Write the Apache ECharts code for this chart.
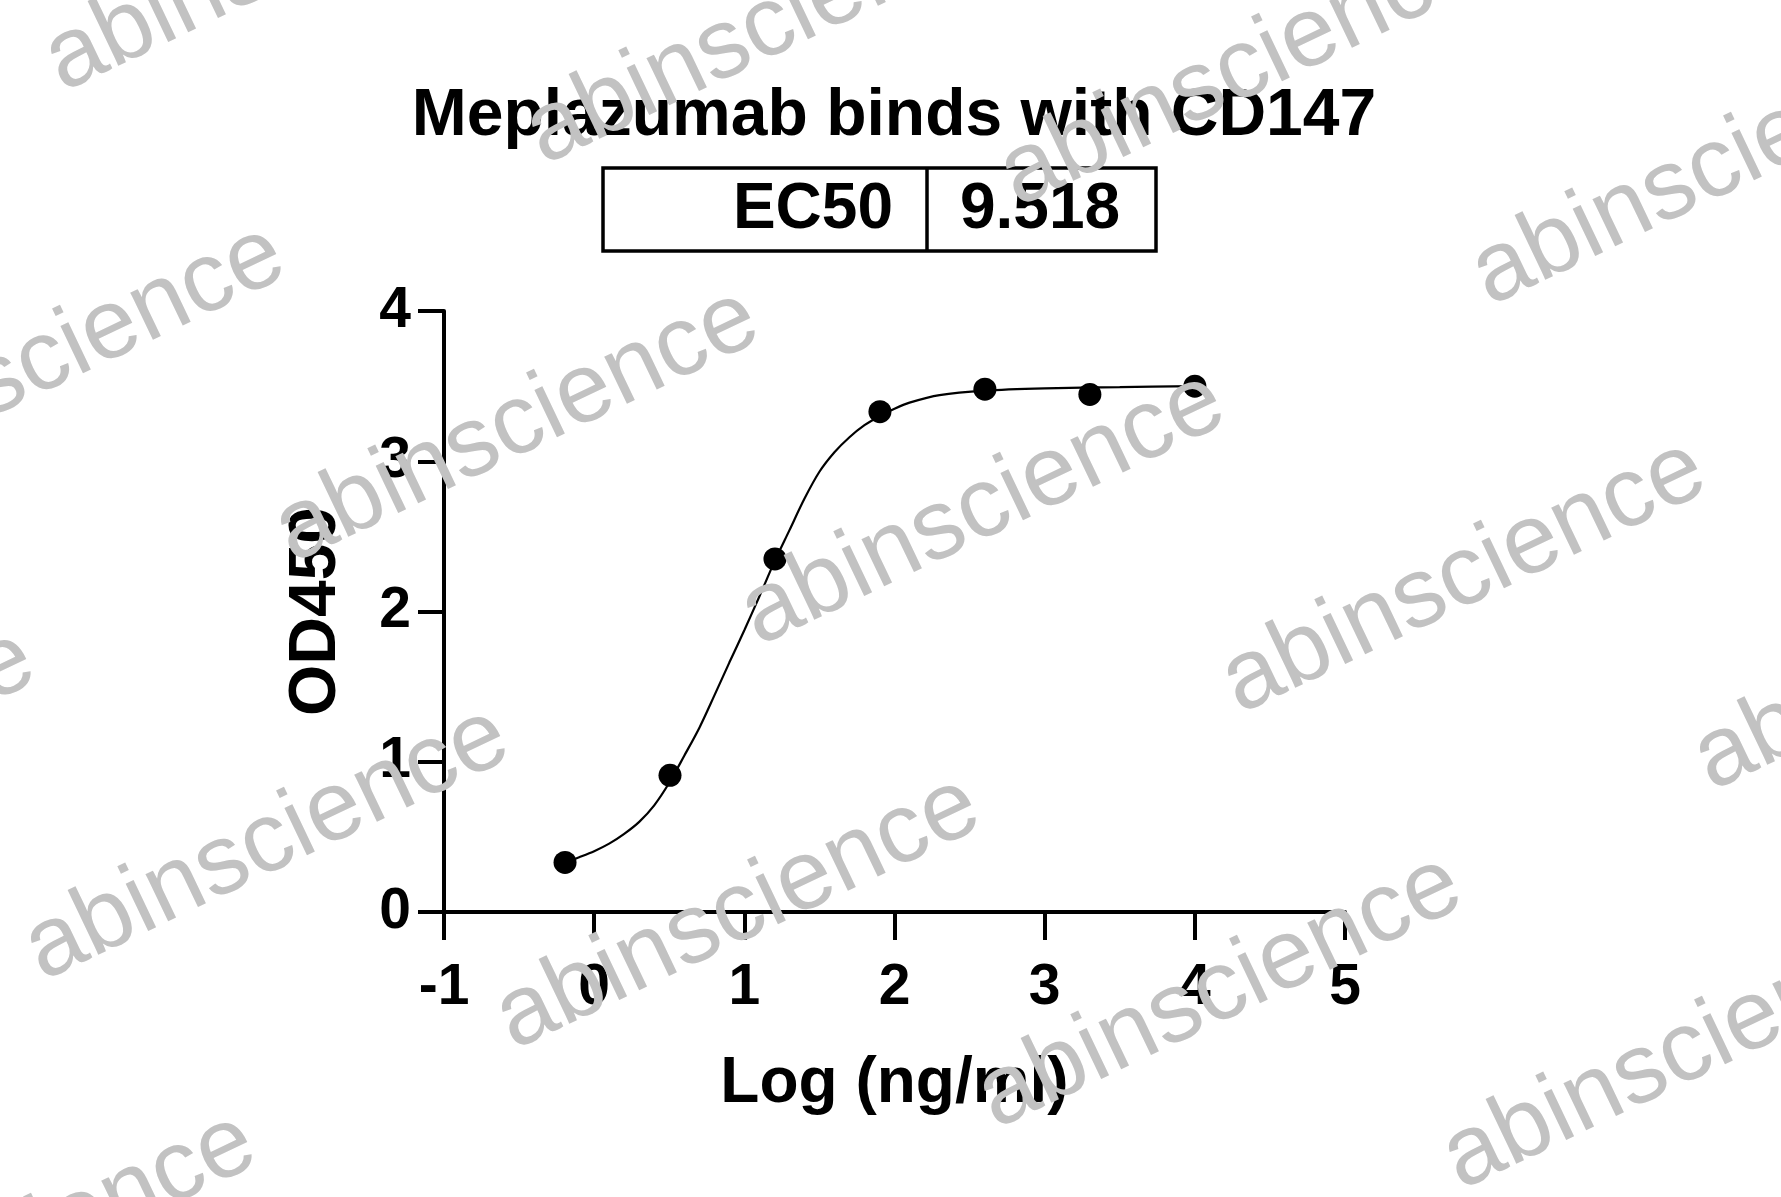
<!DOCTYPE html>
<html>
<head>
<meta charset="utf-8">
<script src="https://cdn.jsdelivr.net/npm/echarts@6/dist/echarts.min.js"></script>
<style>
html,body{margin:0;padding:0;background:#fff;}
#chart{width:1781px;height:1197px;}
</style>
</head>
<body>
<div id="chart"></div>
<script>
// ---- data ----
const chartTitle = 'Meplazumab binds with CD147';
const ec50Label = 'EC50';
const ec50Value = '9.518';
const xAxisName = 'Log (ng/ml)';
const yAxisName = 'OD450';
// measured points: log10 concentration (ng/ml) vs OD450
const pointLogConc = [-0.194, 0.505, 1.204, 1.903, 2.602, 3.301, 4.0];
const pointOD = [0.33, 0.91, 2.35, 3.33, 3.48, 3.445, 3.50];
// fitted curve
const curveLogConc = [-0.194, -0.1, 0.0, 0.1, 0.2, 0.3, 0.4, 0.5, 0.6, 0.7, 0.8, 0.9, 1.0, 1.1, 1.2, 1.3, 1.4, 1.5, 1.6, 1.7, 1.8, 1.9, 2.0, 2.1, 2.3, 2.6, 3.0, 3.5, 4.0];
const curveOD = [0.33, 0.365, 0.405, 0.455, 0.52, 0.60, 0.71, 0.86, 1.04, 1.225, 1.44, 1.66, 1.875, 2.10, 2.33, 2.54, 2.75, 2.93, 3.06, 3.16, 3.24, 3.30, 3.35, 3.39, 3.44, 3.47, 3.485, 3.493, 3.50];
const xTicks = [-1, 0, 1, 2, 3, 4, 5];
const yTicks = [0, 1, 2, 3, 4];
const watermarkText = 'abinscience';

const FONT = '"Liberation Sans", Arial, Helvetica, sans-serif';
const chart = echarts.init(document.getElementById('chart'));

const pointData = pointLogConc.map((x, i) => [x, pointOD[i]]);
const curveData = curveLogConc.map((x, i) => [x, curveOD[i]]);

// watermark centres (layout only)
const wmCentres = [
  [287, -45], [768, 28], [1242, 70], [1714, 169],
  [43, 362], [517, 426], [983, 509], [1464, 577], [1936, 654],
  [-207, 767], [267, 844], [738, 913], [1220, 992], [1685, 1053],
  [14, 1250]
];
const wmRot = 25.5 * Math.PI / 180;
const watermarks = wmCentres.map(c => ({
  type: 'text', x: c[0], y: c[1], rotation: wmRot, z: 100, silent: true,
  style: { text: watermarkText, fill: '#c2c2c2', font: 'normal 99px ' + FONT,
           textAlign: 'center', textVerticalAlign: 'middle' }
}));

const xMin = xTicks[0], xMax = xTicks[xTicks.length - 1];
const yMin = yTicks[0], yMax = yTicks[yTicks.length - 1];

chart.setOption({
  backgroundColor: '#ffffff',
  animation: false,
  grid: { left: 444, right: 436, top: 311, bottom: 285, containLabel: false },
  xAxis: {
    type: 'value', min: xMin, max: xMax, interval: 1,
    name: xAxisName, nameLocation: 'middle', nameGap: 140,
    nameTextStyle: { color: '#000', fontFamily: FONT, fontWeight: 'bold', fontSize: 64 },
    axisLine: { show: true, onZero: false, lineStyle: { color: '#000', width: 4 } },
    axisTick: { show: true, length: 28, lineStyle: { color: '#000', width: 4 } },
    axisLabel: { color: '#000', fontFamily: FONT, fontWeight: 'bold', fontSize: 57, margin: 48 },
    splitLine: { show: false }
  },
  yAxis: {
    type: 'value', min: yMin, max: yMax, interval: 1,
    name: yAxisName, nameLocation: 'middle', nameGap: 94, nameRotate: 90,
    nameTextStyle: { color: '#000', fontFamily: FONT, fontWeight: 'bold', fontSize: 66 },
    axisLine: { show: true, onZero: false, lineStyle: { color: '#000', width: 4 } },
    axisTick: { show: true, length: 26, lineStyle: { color: '#000', width: 4 } },
    axisLabel: { color: '#000', fontFamily: FONT, fontWeight: 'bold', fontSize: 57, margin: 33 },
    splitLine: { show: false }
  },
  series: [
    {
      type: 'line', data: curveData, smooth: 0.3, showSymbol: false, symbol: 'none',
      lineStyle: { color: '#000', width: 2.2 }, z: 2, silent: true
    },
    {
      type: 'scatter', data: pointData, symbol: 'circle', symbolSize: 23,
      itemStyle: { color: '#000', opacity: 1 }, z: 3, silent: true
    }
  ],
  graphic: [
    { type: 'text', x: 894, y: 117, z: 10,
      style: { text: chartTitle, fill: '#000', font: 'bold 66px ' + FONT,
               textAlign: 'center', textVerticalAlign: 'middle' } },
    { type: 'rect', z: 10, shape: { x: 603, y: 168, width: 553, height: 83 },
      style: { fill: 'none', stroke: '#000', lineWidth: 3.5 } },
    { type: 'line', z: 10, shape: { x1: 927, y1: 168, x2: 927, y2: 251 },
      style: { stroke: '#000', lineWidth: 3.5 } },
    { type: 'text', x: 893, y: 210, z: 10,
      style: { text: ec50Label, fill: '#000', font: 'bold 64px ' + FONT,
               textAlign: 'right', textVerticalAlign: 'middle' } },
    { type: 'text', x: 1040, y: 210, z: 10,
      style: { text: ec50Value, fill: '#000', font: 'bold 64px ' + FONT,
               textAlign: 'center', textVerticalAlign: 'middle' } }
  ].concat(watermarks)
});
</script>
</body>
</html>
